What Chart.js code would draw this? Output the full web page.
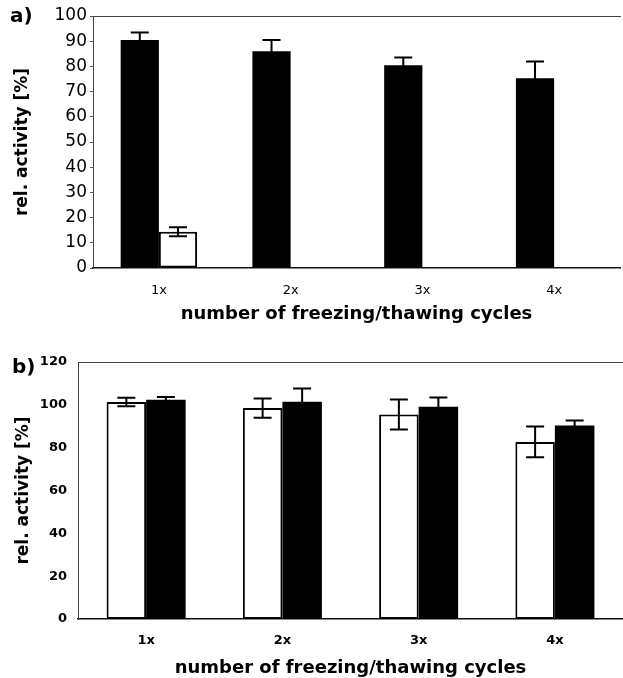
<!DOCTYPE html>
<html>
<head>
<meta charset="utf-8">
<script src="https://cdn.jsdelivr.net/npm/chart.js@4.4.0/dist/chart.umd.min.js"></script>
<style>
  body { margin: 0; background: #fff; width: 623px; height: 678px; overflow: hidden; position: relative; }
  canvas { position: absolute; left: 0; }
  .tag { position: absolute; font: bold 20px/20px 'DejaVu Sans', sans-serif; color: #000; }
</style>
</head>
<body>
<canvas id="chartA" width="623" height="330" style="top:0"></canvas>
<canvas id="chartB" width="623" height="348" style="top:330px"></canvas>
<div class="tag" style="left:10px; top:5px;">a)</div>
<div class="tag" style="left:12px; top:356px;">b)</div>

<script>
const cycles = ['1x', '2x', '3x', '4x'];

// panel a: solid bars first, open bars second
const aSolid = [90.5, 86.0, 80.5, 75.3];
const aSolidErr = [3.0, 4.5, 3.0, 6.6];
const aOpen = [14.4, 0, 0, 0];
const aOpenErr = [1.8, 0, 0, 0];

// panel b: open bars first, solid bars second
const bOpen = [101.3, 98.5, 95.5, 82.7];
const bOpenErr = [2.0, 4.5, 7.0, 7.2];
const bSolid = [102.4, 101.4, 99.1, 90.3];
const bSolidErr = [1.2, 6.2, 4.3, 2.4];

const aTicks = { max: 100, step: 10 };
const bTicks = { max: 120, step: 20 };

const xTitle = 'number of freezing/thawing cycles';
const yTitle = 'rel. activity [%]';
const FONT = "'DejaVu Sans', sans-serif";

const errorBars = {
    id: 'errorBars',
    afterDatasetsDraw(chart) {
        const ctx = chart.ctx;
        const yScale = chart.scales.y;
        chart.data.datasets.forEach((ds, i) => {
            const meta = chart.getDatasetMeta(i);
            meta.data.forEach((bar, j) => {
                const err = ds.errors[j];
                if (!err) return;
                const v = ds.data[j];
                const yTop = yScale.getPixelForValue(v + err);
                const yBot = yScale.getPixelForValue(v - err);
                ctx.save();
                ctx.strokeStyle = '#000';
                ctx.lineWidth = 2;
                ctx.beginPath();
                ctx.moveTo(bar.x, yTop);
                ctx.lineTo(bar.x, yBot);
                ctx.moveTo(bar.x - 9, yTop);
                ctx.lineTo(bar.x + 9, yTop);
                ctx.moveTo(bar.x - 9, yBot);
                ctx.lineTo(bar.x + 9, yBot);
                ctx.stroke();
                ctx.restore();
            });
        });
    }
};

function solidSet(data, errors) {
    return { data, errors, backgroundColor: '#000', borderWidth: 0 };
}

function openSet(data, errors) {
    return { data, errors, backgroundColor: '#fff', borderColor: '#000', borderWidth: 2, borderSkipped: false };
}

function renderPanel(id, datasets, o) {
    const ctx = document.getElementById(id).getContext('2d');
    return new Chart(ctx, {
        type: 'bar',
        data: { labels: cycles, datasets },
        options: {
            responsive: false,
            animation: false,
            events: [],
            layout: { padding: { top: o.top, right: o.right, left: 0, bottom: 0 } },
            datasets: { bar: { categoryPercentage: 0.58, barPercentage: 1.0 } },
            plugins: { legend: { display: false }, tooltip: { enabled: false } },
            scales: {
                x: {
                    grid: { display: false, drawTicks: false },
                    border: { display: true, color: '#111', width: 1.5 },
                    ticks: { color: '#000', padding: o.xTickPad, font: o.xTickFont },
                    title: {
                        display: true, text: xTitle, color: '#000',
                        font: { family: FONT, size: 18, weight: 'bold', lineHeight: 1 },
                        padding: { top: 0, bottom: o.xTitlePad }
                    },
                    afterFit: s => { s.height = o.xHeight; }
                },
                x2: {
                    type: 'category',
                    position: 'top',
                    grid: { display: false, drawTicks: false },
                    border: { display: true, color: '#444', width: 1 },
                    ticks: { display: false },
                    afterFit: s => { s.height = 0; }
                },
                y: {
                    min: 0,
                    max: o.ticks.max,
                    grid: { display: o.yTickLen > 0, drawOnChartArea: false, drawTicks: o.yTickLen > 0, tickLength: o.yTickLen, color: '#555' },
                    border: { display: true, color: '#444', width: 1 },
                    ticks: { stepSize: o.ticks.step, color: '#000', padding: o.yTickPad, font: o.yTickFont },
                    title: {
                        display: true, text: yTitle, color: '#000',
                        font: { family: FONT, size: 17, weight: 'bold', lineHeight: 1 },
                        padding: { top: o.yTitlePad, bottom: 0 }
                    },
                    afterFit: s => { s.width = o.yWidth; }
                }
            }
        },
        plugins: [errorBars]
    });
}

document.addEventListener('DOMContentLoaded', () => {
    renderPanel('chartA', [solidSet(aSolid, aSolidErr), openSet(aOpen, aOpenErr)], {
        top: 16, right: 3, ticks: aTicks,
        xHeight: 62, xTickPad: 15, xTitlePad: 7,
        xTickFont: { family: FONT, size: 13 },
        yWidth: 93, yTickLen: 3, yTickPad: 3, yTitlePad: 14,
        yTickFont: { family: FONT, size: 17 }
    });

    renderPanel('chartB', [openSet(bOpen, bOpenErr), solidSet(bSolid, bSolidErr)], {
        top: 32, right: 0, ticks: bTicks,
        xHeight: 59, xTickPad: 14, xTitlePad: 1,
        xTickFont: { family: FONT, size: 13, weight: 'bold' },
        yWidth: 78, yTickLen: 0, yTickPad: 11, yTitlePad: 15,
        yTickFont: { family: FONT, size: 13, weight: 'bold' }
    });
});
</script>
</body>
</html>
